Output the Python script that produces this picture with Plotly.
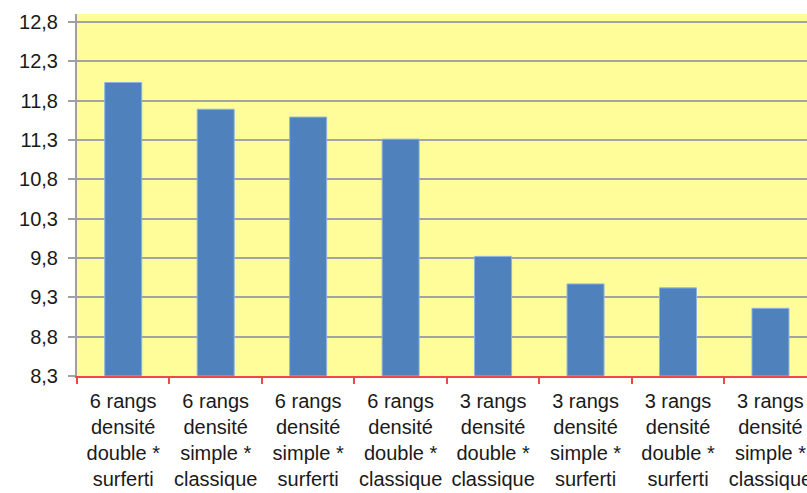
import plotly.graph_objects as go

categories = [
    "6 rangs<br>densité<br>double *<br>surferti",
    "6 rangs<br>densité<br>simple *<br>classique",
    "6 rangs<br>densité<br>simple *<br>surferti",
    "6 rangs<br>densité<br>double *<br>classique",
    "3 rangs<br>densité<br>double *<br>classique",
    "3 rangs<br>densité<br>simple *<br>surferti",
    "3 rangs<br>densité<br>double *<br>surferti",
    "3 rangs<br>densité<br>simple *<br>classique",
]
values = [12.03, 11.69, 11.59, 11.31, 9.82, 9.47, 9.42, 9.16]
y_ticks = [8.3, 8.8, 9.3, 9.8, 10.3, 10.8, 11.3, 11.8, 12.3, 12.8]
y_floor = 8.3

# bars rise from the axis floor up to each value
fig = go.Figure(
    go.Bar(
        x=categories,
        y=[v - y_floor for v in values],
        base=y_floor,
        width=0.4,
        marker=dict(color="#4F81BD", line=dict(color="#8DB3E2", width=1)),
    )
)

font = dict(family="Liberation Sans, Arial, sans-serif", size=20, color="#1a1a1a")

fig.update_layout(
    width=807,
    height=493,
    margin=dict(l=77, r=0, t=14, b=117),
    paper_bgcolor="white",
    plot_bgcolor="#FFFD99",
    separators=", ",
    showlegend=False,
    font=font,
)
fig.update_xaxes(
    type="category",
    range=[-0.5, 7.395],
    tickson="boundaries",
    tickangle=0,
    automargin=False,
    showgrid=False,
    showline=True,
    linecolor="#F04848",
    linewidth=1.5,
    ticks="outside",
    tickcolor="#F04848",
    ticklen=6,
    tickwidth=1.5,
    ticklabelstandoff=6,
    tickfont=font,
)
fig.update_yaxes(
    range=[y_floor, 12.9],
    tickvals=y_ticks,
    tickformat=".1f",
    automargin=False,
    showgrid=True,
    gridcolor="#A3A3A3",
    gridwidth=2,
    showline=True,
    linecolor="#A0A0A0",
    linewidth=2,
    ticks="outside",
    tickcolor="#A0A0A0",
    ticklen=7,
    tickwidth=2,
    ticklabelstandoff=6,
    tickfont=font,
    zeroline=False,
)

fig.write_html("out.html")
